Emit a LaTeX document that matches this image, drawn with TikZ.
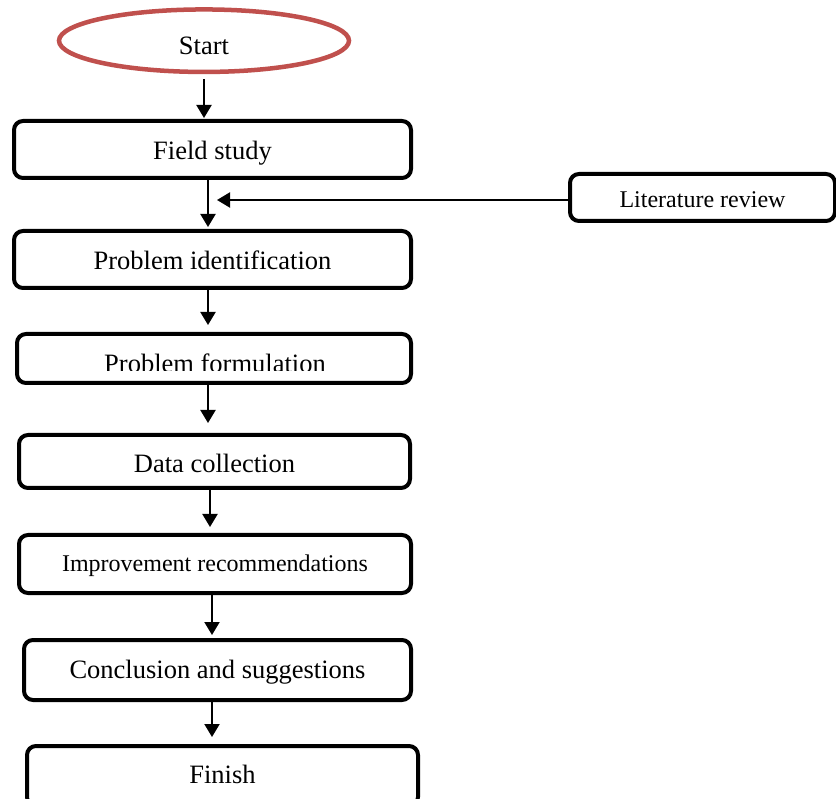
\documentclass[tikz,border=0pt]{standalone}
\usepackage{fontspec}
\setmainfont{Liberation Serif}
\usetikzlibrary{arrows.meta,shapes.geometric}
\definecolor{startred}{RGB}{192,80,77}
\begin{document}
\begin{tikzpicture}[x=1pt,y=-1pt,
  box/.style={draw=black, fill=white, line width=4pt, rounded corners=9pt, inner sep=0pt,
    font=\fontsize{26.5}{30}\selectfont, text height=21pt, text depth=0pt, align=center},
  smallbox/.style={box, font=\fontsize{24}{28}\selectfont},
  arr/.style={line width=2pt, -{Triangle[width=15pt,length=13pt]}},
]
\clip (0,0) rectangle (836,799);
\fill[white] (0,0) rectangle (836,799);

\node[ellipse, draw=startred, line width=4.5pt, minimum width=290pt, minimum height=62.5pt,
  inner sep=0pt, font=\fontsize{26.5}{30}\selectfont, text height=27pt, text depth=0pt]
  (st) at (204,40.7) {Start};

\node[box, minimum width=397pt, minimum height=57pt] (fs) at (212.5,149.5) {Field study};
\node[box, minimum width=397pt, minimum height=57pt] (pi) at (212.5,259.5) {Problem identification};
\node[box, minimum width=394pt, minimum height=49pt] (pf) at (214,358.5) {};
\begin{scope}
  \clip (17,334) rectangle (411,370.5);
  \node[anchor=base, inner sep=0pt, font=\fontsize{26.5}{30}\selectfont] (pft) at (215,372.5) {Problem formulation};
\end{scope}
\node[box, minimum width=391pt, minimum height=53pt, text height=23pt] (dc) at (214.5,461.5) {Data collection};
\node[smallbox, minimum width=392pt, minimum height=58pt, text height=16pt] (ir) at (215,564) {Improvement recommendations};
\node[box, minimum width=387pt, minimum height=60pt, text height=16pt] (cs) at (217.5,670) {Conclusion and suggestions};
\node[box, minimum width=391pt, minimum height=60pt, text height=14pt] (fn) at (222.5,776) {Finish};

\node[smallbox, minimum width=265pt, minimum height=47pt] (lit) at (702.5,197.5) {Literature review};
\coordinate (litend) at (217,200);

\draw[arr, shorten <=5pt, shorten >=1pt] (st.south) -- (st.south |- fs.north);
\draw[arr, shorten >=2pt] ([xshift=-4.5pt]fs.south) -- ([xshift=-4.5pt]fs.south |- pi.north);
\draw[arr, shorten >=7pt] ([xshift=-4.5pt]pi.south) -- ([xshift=-4.5pt]pi.south |- pf.north);
\draw[arr, shorten >=10pt] ([xshift=-6pt]pf.south) -- ([xshift=-6pt]pf.south |- dc.north);
\draw[arr, shorten >=6pt] ([xshift=-4.5pt]dc.south) -- ([xshift=-4.5pt]dc.south |- ir.north);
\draw[arr, shorten >=3pt] ([xshift=-3pt]ir.south) -- ([xshift=-3pt]ir.south |- cs.north);
\draw[arr, shorten >=7pt] ([xshift=-5.5pt]cs.south) -- ([xshift=-5.5pt]cs.south |- fn.north);
\draw[arr] ([yshift=-2.5pt]lit.west) -- (litend);
\end{tikzpicture}
\end{document}
